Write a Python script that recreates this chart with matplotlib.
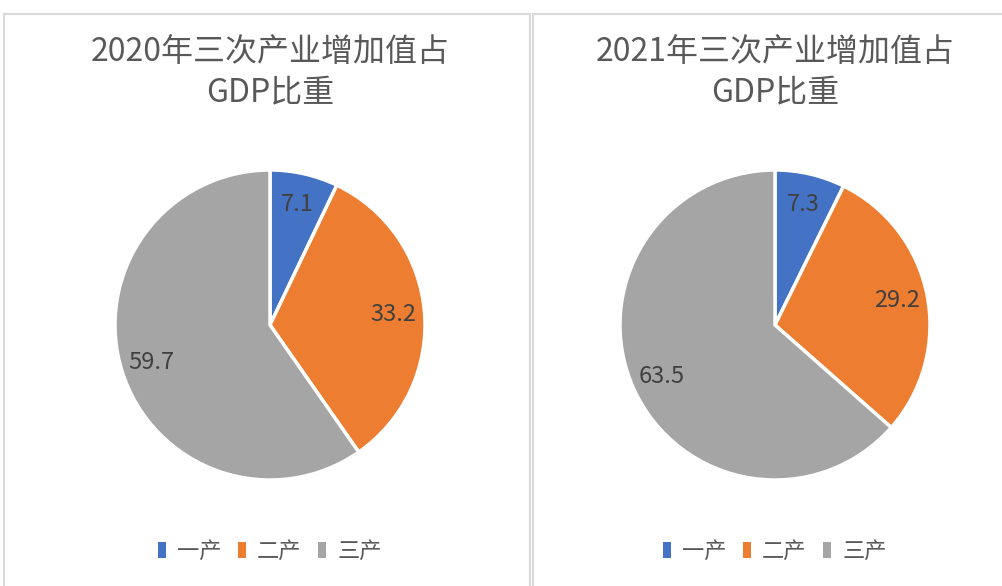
import matplotlib
matplotlib.use('Agg')
import matplotlib.pyplot as plt
from matplotlib.patches import Rectangle, Patch

plt.rcParams['font.family'] = ['Noto Sans CJK SC', 'DejaVu Sans']

categories = ['一产', '二产', '三产']
titles = ['2020年三次产业增加值占\nGDP比重', '2021年三次产业增加值占\nGDP比重']
values_2020 = [7.1, 33.2, 59.7]
values_2021 = [7.3, 29.2, 63.5]
colors = ['#4472C4', '#ED7D31', '#A5A5A5']

W, H = 1002, 586
fig = plt.figure(figsize=(W / 100, H / 100), dpi=100)

# panel frames (pixel coords from top-left)
for x0, x1 in [(4, 530), (533, 1010)]:
    fig.add_artist(Rectangle((x0 / W, -0.05), (x1 - x0) / W, 1.05 - 14 / H,
                             transform=fig.transFigure, fill=False,
                             edgecolor='#D9D9D9', linewidth=1.5))

panels = [(270, titles[0], values_2020), (775, titles[1], values_2021)]
R = 155
cy = 325
for cx, title, vals in panels:
    ax = fig.add_axes([(cx - R) / W, (H - cy - R) / H, 2 * R / W, 2 * R / H])
    ax.pie(vals, colors=colors, startangle=90, counterclock=False,
           labels=[f'{v:.1f}' for v in vals], labeldistance=0.8,
           textprops=dict(fontsize=17, color='#404040', fontweight='light'),
           wedgeprops=dict(edgecolor='white', linewidth=2.5))
    for t in ax.texts:
        t.set_ha('center')
        t.set_va('center')
    ax.set_xlim(-1, 1)
    ax.set_ylim(-1, 1)
    ax.set_aspect('auto')
    ax.axis('off')

    line1, line2 = title.split('\n')
    fig.text(cx / W, 1 - 52 / H, line1, ha='center', va='center',
             fontsize=23, color='#595959', fontweight='light')
    fig.text(cx / W, 1 - 93 / H, line2, ha='center', va='center',
             fontsize=23, color='#595959', fontweight='light')

    handles = [Patch(facecolor=c, edgecolor='none') for c in colors]
    fig.legend(handles, categories, loc='center', bbox_to_anchor=(cx / W, 1 - 551 / H),
               ncol=3, frameon=False, labelcolor='#595959',
               prop=dict(size=16, weight='light'),
               handlelength=0.35, handleheight=0.7, handletextpad=0.5,
               columnspacing=0.75)

fig.savefig('out.png', dpi=100)
